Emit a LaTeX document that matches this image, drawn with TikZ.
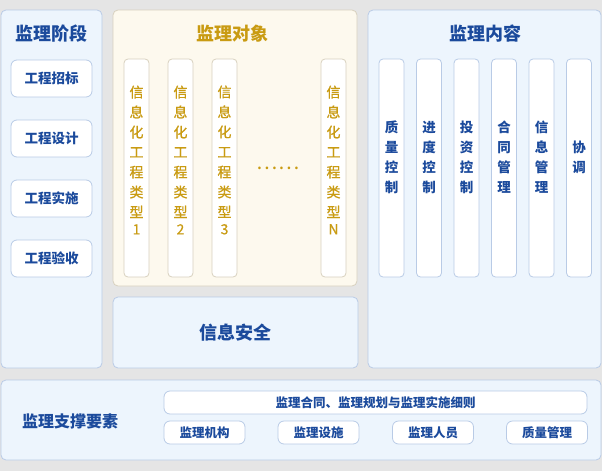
\documentclass[tikz,border=0pt]{standalone}
\usepackage{fontspec}
\newfontfamily\cjk{Noto Sans CJK SC}
\newfontfamily\cjkgold{Noto Sans CJK SC}[FakeBold=0.6]
\usepackage{xcolor}
\usetikzlibrary{positioning}
\definecolor{jlblue}{HTML}{1B4A9C}
\definecolor{jlgold}{HTML}{C99B12}
\definecolor{paneblue}{HTML}{EDF5FD}
\definecolor{paneline}{HTML}{B9CBE6}
\definecolor{panecream}{HTML}{FDF9EE}
\definecolor{creamline}{HTML}{D8D1BF}
\definecolor{bggray}{HTML}{E5E5E5}

\begin{document}
\begin{tikzpicture}[x=1pt,y=-1pt,line width=0.8pt,every node/.style={outer sep=0pt},
  pane/.style={draw=paneline,fill=paneblue,rounded corners=5pt,inner sep=0pt},
  title/.style={font=\cjk\bfseries\fontsize{18}{20}\selectfont,text=jlblue},
  btn/.style={draw=paneline,fill=white,rounded corners=6pt,inner sep=0pt,minimum width=81pt,minimum height=37pt,font=\cjk\bfseries\fontsize{13.5}{16}\selectfont,text=jlblue},
  smallbtn/.style={btn,minimum height=23pt,font=\cjk\bfseries\fontsize{12.5}{14}\selectfont},
  col/.style={draw=paneline,fill=white,rounded corners=4pt,inner sep=0pt,minimum width=25pt,minimum height=218pt},
  coltext/.style={align=center,inner sep=0pt,font=\cjk\bfseries\fontsize{13.5}{20}\selectfont,text=jlblue},
  goldcol/.style={col,draw=creamline},
  goldtext/.style={coltext,font=\cjkgold\fontsize{14}{20}\selectfont,text=jlgold}]
\useasboundingbox[fill=bggray] (0,0) rectangle (602,471);

% three upper panes and the security pane
\node[pane,minimum width=101pt,minimum height=358pt] (stagepane) at (51.5,189) {};
\node[pane,draw=creamline,fill=panecream,minimum width=244pt,minimum height=276pt] (objpane) at (235,148) {};
\node[pane,minimum width=245pt,minimum height=71pt,title] (security) at (235.5,332.5) {信息安全};
\node[pane,minimum width=233pt,minimum height=358pt] (contentpane) at (484.5,189) {};
\node[pane,minimum width=600pt,minimum height=80pt] (supportpane) at (301,420) {};

\node[title] (stagetitle) at (51.5,34) {监理阶段};
\node[title,text=jlgold] (objtitle) at (232,34) {监理对象};
\node[title] (contenttitle) at (485,34) {监理内容};

% stages
\node[btn] (bid) at (51.5,78.5) {工程招标};
\node[btn,below=23pt of bid] (design) {工程设计};
\node[btn,below=23pt of design] (build) {工程实施};
\node[btn,below=23pt of build] (accept) {工程验收};

% objects
\node[goldcol] (type1) at (136.5,168) {};
\node[goldcol,right=19pt of type1] (type2) {};
\node[goldcol,right=19pt of type2] (type3) {};
\node[goldcol] (typen) at (333.5,168) {};
\node[goldtext,yshift=8pt] (type1txt) at (type1) {信\\息\\化\\工\\程\\类\\型\\[-3pt]1};
\node[goldtext,yshift=8pt] (type2txt) at (type2) {信\\息\\化\\工\\程\\类\\型\\[-3pt]2};
\node[goldtext,yshift=8pt] (type3txt) at (type3) {信\\息\\化\\工\\程\\类\\型\\[-3pt]3};
\node[goldtext,yshift=8pt] (typentxt) at (typen) {信\\息\\化\\工\\程\\类\\型\\[-3pt]N};
\node[inner sep=0pt,text=jlgold,font=\cjk\fontsize{20}{20}\selectfont] (dots) at (278,168) {……};

% contents
\node[col] (quality) at (391.5,168) {};
\node[col,right=12.5pt of quality] (progress) {};
\node[col,right=12.5pt of progress] (invest) {};
\node[col,right=12.5pt of invest] (contract) {};
\node[col,right=12.5pt of contract] (info) {};
\node[col,right=12.5pt of info] (coord) {};
\node[coltext,yshift=11pt] (qualitytxt) at (quality) {质\\量\\控\\制};
\node[coltext,yshift=11pt] (progresstxt) at (progress) {进\\度\\控\\制};
\node[coltext,yshift=11pt] (investtxt) at (invest) {投\\资\\控\\制};
\node[coltext,yshift=11pt] (contracttxt) at (contract) {合\\同\\管\\理};
\node[coltext,yshift=11pt] (infotxt) at (info) {信\\息\\管\\理};
\node[coltext,yshift=11pt] (coordtxt) at (coord) {协\\调};

% support elements
\node[text=jlblue,font=\cjk\bfseries\fontsize{16}{18}\selectfont] (supporttitle) at (70,421) {监理支撑要素};
\node[smallbtn,minimum width=423pt] (plan) at (375.5,402.5) {监理合同、监理规划与监理实施细则};
\node[smallbtn] (org) at (204.5,432.5) {监理机构};
\node[smallbtn,right=33pt of org] (facility) {监理设施};
\node[smallbtn,right=33.5pt of facility] (staff) {监理人员};
\node[smallbtn,right=33pt of staff] (qm) {质量管理};
\end{tikzpicture}
\end{document}
